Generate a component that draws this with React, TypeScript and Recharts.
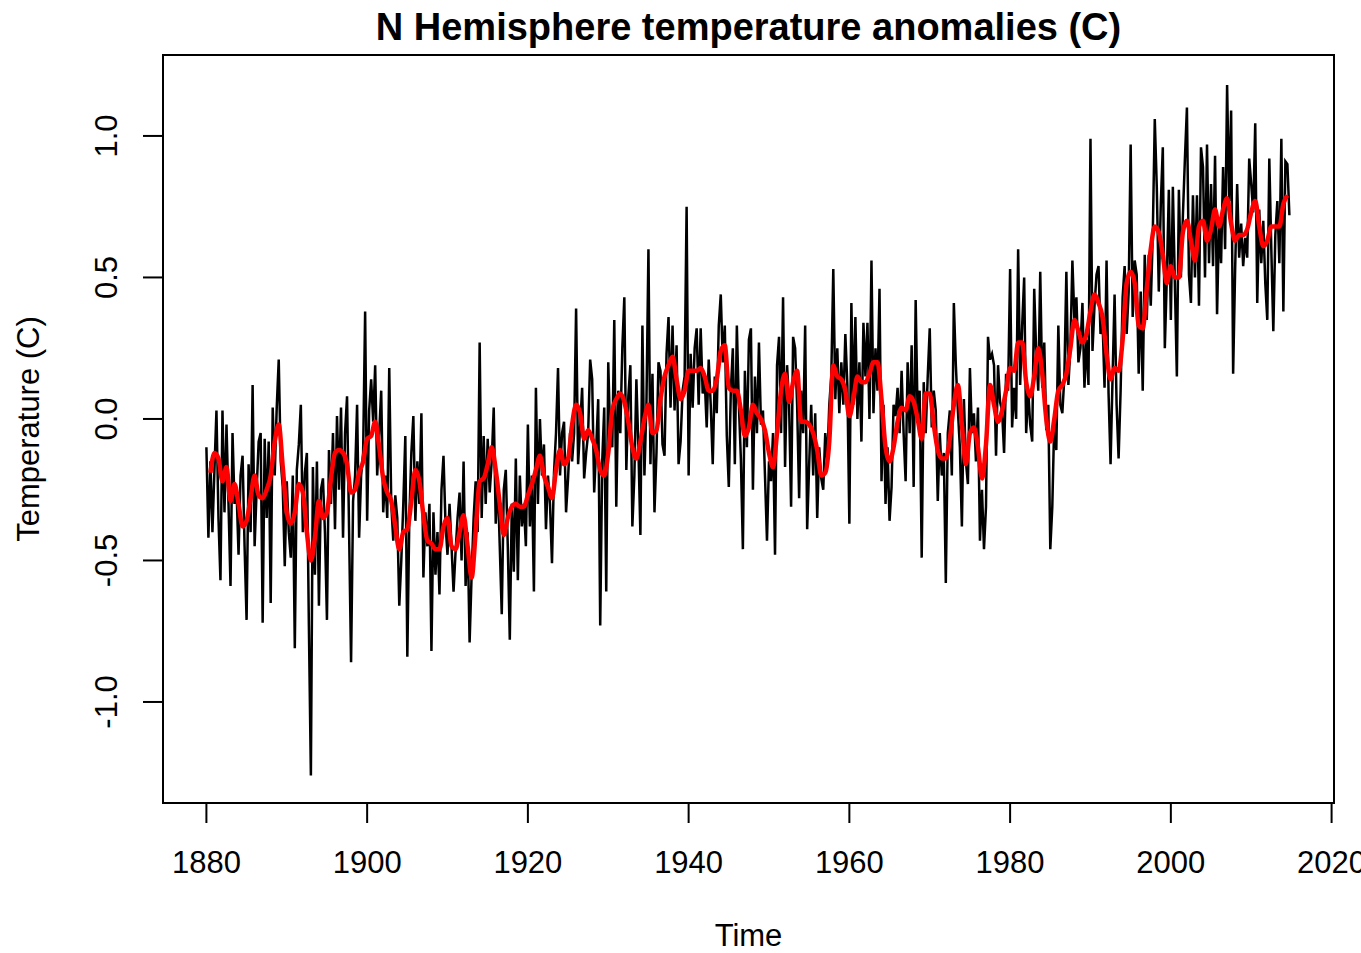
import React from 'react';
import { LineChart, Line, XAxis, YAxis, ReferenceArea } from 'recharts';

// Quarterly readings of the monthly NH anomaly trace (C), 4 values per year
const nh1880s = [
  -0.10, -0.42, -0.15, -0.40,
  -0.18, 0.03, -0.35, -0.57,
  0.03, -0.33, -0.02, -0.30,
  -0.59, -0.05, -0.30, -0.25,
  -0.48, -0.20, -0.13, -0.45,
  -0.71, -0.16, -0.40, 0.12,
  -0.45, -0.25, -0.08, -0.05,
  -0.72, -0.07, -0.35, -0.08,
  -0.65, 0.04, -0.20, 0.04,
  0.21, -0.15, -0.24, -0.52,
];
const nh1890s = [
  -0.22, -0.40, -0.49, -0.20,
  -0.81, -0.18, -0.09, 0.05,
  -0.40, -0.19, -0.12, -0.73,
  -1.26, -0.17, -0.55, -0.15,
  -0.66, -0.25, -0.21, -0.40,
  -0.71, -0.11, -0.30, -0.05,
  -0.39, 0.01, -0.25, 0.04,
  -0.42, -0.05, 0.08, -0.39,
  -0.86, -0.29, -0.20, 0.05,
  -0.42, -0.20, -0.12, 0.38,
];
const nh1900s = [
  -0.36, 0.03, 0.14, -0.01,
  0.19, -0.20, -0.05, 0.10,
  -0.33, -0.20, -0.35, 0.18,
  -0.30, -0.43, -0.27, -0.35,
  -0.66, -0.50, -0.30, -0.06,
  -0.84, -0.35, -0.12, 0.01,
  -0.36, -0.15, -0.30, 0.02,
  -0.56, -0.33, -0.45, -0.30,
  -0.82, -0.33, -0.55, -0.40,
  -0.62, -0.25, -0.13, -0.37,
];
const nh1910s = [
  -0.48, -0.30, -0.45, -0.61,
  -0.47, -0.35, -0.26, -0.50,
  -0.15, -0.59, -0.40, -0.79,
  -0.55, -0.35, -0.22, -0.40,
  0.27, -0.35, -0.06, -0.30,
  -0.07, -0.26, -0.15, 0.04,
  -0.37, -0.21, -0.45, -0.69,
  -0.25, -0.18, -0.45, -0.78,
  -0.30, -0.54, -0.14, -0.57,
  -0.20, -0.38, -0.30, -0.45,
];
const nh1920s = [
  -0.02, -0.38, -0.20, -0.61,
  0.11, -0.30, 0.00, -0.20,
  -0.09, -0.39, -0.20, -0.30,
  -0.51, -0.19, -0.05, 0.18,
  -0.20, -0.05, -0.01, -0.33,
  -0.21, -0.05, -0.15, -0.05,
  0.39, -0.16, -0.03, 0.11,
  -0.21, -0.12, -0.05, 0.21,
  0.14, -0.26, -0.10, 0.07,
  -0.73, -0.15, 0.04, -0.61,
];
const nh1930s = [
  0.20, -0.07, -0.10, 0.35,
  -0.31, 0.10, -0.05, 0.25,
  0.43, -0.18, 0.08, 0.19,
  -0.38, -0.20, 0.14, -0.10,
  -0.41, 0.33, -0.20, 0.05,
  0.60, -0.16, 0.16, -0.33,
  -0.12, 0.20, 0.17, -0.09,
  -0.13, 0.23, 0.36, 0.04,
  0.33, 0.03, 0.26, -0.16,
  -0.08, 0.10, 0.15, 0.75,
];
const nh1940s = [
  -0.20, 0.23, 0.04, 0.25,
  0.32, 0.05, 0.32, 0.09,
  0.14, -0.03, 0.21, 0.05,
  -0.16, 0.15, 0.02, 0.33,
  0.44, 0.20, 0.33, -0.06,
  -0.24, 0.10, 0.25, -0.16,
  0.33, 0.05, -0.14, -0.46,
  0.17, -0.10, 0.28, 0.32,
  -0.25, 0.15, -0.05, 0.27,
  -0.02, 0.03, -0.20, -0.43,
];
const nh1950s = [
  -0.15, -0.22, -0.05, -0.48,
  0.19, 0.29, -0.05, 0.43,
  -0.17, 0.19, 0.05, -0.31,
  0.29, 0.25, 0.05, -0.28,
  0.10, -0.05, 0.33, -0.39,
  -0.16, 0.05, -0.20, 0.02,
  -0.35, -0.10, -0.21, -0.25,
  -0.05, -0.15, 0.05, 0.15,
  0.53, 0.07, 0.25, 0.02,
  0.20, 0.05, 0.30, 0.12,
];
const nh1960s = [
  -0.37, 0.41, 0.05, 0.36,
  0.00, 0.20, -0.08, 0.34,
  0.15, 0.34, 0.00, 0.56,
  0.02, 0.25, 0.10, 0.46,
  -0.22, 0.05, -0.30, -0.10,
  -0.36, -0.24, 0.05, 0.01,
  0.11, -0.05, 0.17, -0.05,
  -0.22, 0.20, -0.05, 0.26,
  -0.24, 0.42, 0.00, 0.10,
  -0.49, 0.13, -0.05, 0.15,
];
const nh1970s = [
  0.32, -0.03, 0.10, 0.03,
  -0.29, -0.05, -0.20, -0.12,
  -0.58, -0.05, 0.03, -0.20,
  0.41, 0.19, 0.03, -0.10,
  -0.38, 0.07, -0.15, -0.23,
  0.18, -0.05, 0.02, -0.15,
  0.04, -0.43, -0.25, -0.46,
  -0.31, 0.29, 0.21, 0.23,
  0.19, -0.13, 0.19, 0.06,
  0.03, -0.12, 0.16, 0.10,
];
const nh1980s = [
  0.53, -0.03, 0.11, 0.00,
  0.60, 0.12, 0.33, 0.50,
  -0.05, 0.10, -0.02, -0.08,
  0.46, 0.23, 0.10, 0.52,
  0.11, 0.27, -0.04, 0.05,
  -0.46, -0.31, 0.00, -0.11,
  0.33, 0.05, 0.02, 0.15,
  0.52, 0.12, 0.25, 0.56,
  0.35, 0.43, 0.20, 0.25,
  0.41, 0.11, 0.28, 0.12,
];
const nh1990s = [
  0.99, 0.24, 0.40, 0.51,
  0.54, 0.30, 0.35, 0.11,
  0.56, 0.09, -0.16, 0.15,
  0.44, 0.05, -0.14, 0.10,
  0.43, 0.54, 0.30, 0.45,
  0.97, 0.36, 0.56, 0.51,
  0.16, 0.45, 0.10, 0.58,
  0.35, 0.58, 0.40, 0.65,
  1.06, 0.82, 0.45, 0.76,
  0.96, 0.25, 0.50, 0.81,
];
const nh2000s = [
  0.35, 0.82, 0.48, 0.15,
  0.81, 0.50, 0.72, 0.92,
  1.10, 0.51, 0.41, 0.79,
  0.50, 0.79, 0.40, 0.96,
  0.89, 0.50, 0.97, 0.55,
  0.83, 0.54, 0.93, 0.37,
  0.70, 0.55, 0.89, 0.60,
  1.18, 0.77, 1.09, 0.16,
  0.53, 0.83, 0.57, 0.69,
  0.54, 0.64, 0.57, 0.92,
];
const nh2010s = [
  0.83, 0.73, 1.045, 0.41,
  0.74, 0.55, 0.70, 0.48,
  0.35, 0.92, 0.60, 0.31,
  0.65, 0.77, 0.55, 0.99,
  0.38, 0.91, 0.90, 0.72,
];

// Smoothed curve (red), half-year readings; first array starts at 1880.5
const smooth1880s = [
  -0.19, -0.12, -0.14, -0.22, -0.17, -0.29, -0.23, -0.30, -0.38, -0.36,
  -0.28, -0.20, -0.27, -0.28, -0.25, -0.20, -0.08, -0.02, -0.17,
];
const smooth1890s = [
  -0.33, -0.37, -0.33, -0.23, -0.26, -0.40, -0.50, -0.42, -0.29, -0.35,
  -0.33, -0.21, -0.12, -0.11, -0.12, -0.16, -0.26, -0.25, -0.19, -0.15,
];
const smooth1900s = [
  -0.07, -0.06, -0.01, -0.10, -0.21, -0.26, -0.29, -0.38, -0.46, -0.40,
  -0.39, -0.29, -0.18, -0.22, -0.34, -0.43, -0.44, -0.46, -0.46, -0.38,
];
const smooth1910s = [
  -0.35, -0.45, -0.46, -0.40, -0.34, -0.45, -0.56, -0.40, -0.22, -0.21,
  -0.16, -0.10, -0.18, -0.30, -0.41, -0.35, -0.31, -0.30, -0.31, -0.31,
];
const smooth1920s = [
  -0.27, -0.23, -0.18, -0.13, -0.20, -0.24, -0.28, -0.18, -0.11, -0.16,
  -0.14, -0.02, 0.05, 0.02, -0.07, -0.04, -0.07, -0.11, -0.18, -0.20,
];
const smooth1930s = [
  -0.12, 0.03, 0.07, 0.09, 0.06, -0.01, -0.10, -0.14, -0.08, 0.00,
  0.05, -0.05, -0.04, 0.07, 0.15, 0.19, 0.22, 0.14, 0.07, 0.10,
];
const smooth1940s = [
  0.17, 0.17, 0.17, 0.18, 0.15, 0.10, 0.10, 0.14, 0.24, 0.26,
  0.11, 0.10, 0.10, 0.03, -0.06, -0.03, 0.05, 0.02, 0.00, -0.04,
];
const smooth1950s = [
  -0.12, -0.17, -0.05, 0.10, 0.16, 0.06, 0.13, 0.17, -0.01, -0.01,
  -0.02, -0.05, -0.11, -0.20, -0.19, -0.08, 0.19, 0.15, 0.14, 0.10,
];
const smooth1960s = [
  0.01, 0.07, 0.15, 0.13, 0.13, 0.16, 0.20, 0.20, 0.07, -0.10,
  -0.15, -0.10, -0.01, 0.04, 0.03, 0.08, 0.06, 0.00, -0.07, 0.09,
];
const smooth1970s = [
  0.09, -0.02, -0.11, -0.14, -0.14, -0.07, 0.05, 0.12, -0.02, -0.16,
  -0.05, -0.03, -0.10, -0.21, -0.09, 0.12, 0.05, -0.01, 0.03, 0.10,
];
const smooth1980s = [
  0.18, 0.17, 0.27, 0.27, 0.13, 0.08, 0.15, 0.25, 0.16, 0.00,
  -0.08, 0.00, 0.10, 0.12, 0.16, 0.25, 0.35, 0.31, 0.27, 0.30,
];
const smooth1990s = [
  0.38, 0.44, 0.41, 0.36, 0.23, 0.14, 0.18, 0.17, 0.28, 0.48,
  0.52, 0.48, 0.33, 0.32, 0.46, 0.60, 0.68, 0.66, 0.58, 0.48,
];
const smooth2000s = [
  0.54, 0.50, 0.50, 0.66, 0.70, 0.63, 0.56, 0.68, 0.70, 0.63,
  0.67, 0.74, 0.68, 0.74, 0.78, 0.69, 0.63, 0.65, 0.65, 0.67,
];
const smooth2010s = [0.73, 0.77, 0.68, 0.61, 0.63, 0.68, 0.68, 0.68, 0.76, 0.79];

const xTicks = [1880, 1900, 1920, 1940, 1960, 1980, 2000, 2020];
const yTicks = [-1.0, -0.5, 0.0, 0.5, 1.0];

const blackSets: [number, number[]][] = [
  [1880, nh1880s], [1890, nh1890s], [1900, nh1900s], [1910, nh1910s],
  [1920, nh1920s], [1930, nh1930s], [1940, nh1940s], [1950, nh1950s],
  [1960, nh1960s], [1970, nh1970s], [1980, nh1980s], [1990, nh1990s],
  [2000, nh2000s], [2010, nh2010s],
];
const redSets: [number, number[]][] = [
  [1880.5, smooth1880s], [1890, smooth1890s], [1900, smooth1900s], [1910, smooth1910s],
  [1920, smooth1920s], [1930, smooth1930s], [1940, smooth1940s], [1950, smooth1950s],
  [1960, smooth1960s], [1970, smooth1970s], [1980, smooth1980s], [1990, smooth1990s],
  [2000, smooth2000s], [2010, smooth2010s],
];

const rawData = blackSets.flatMap(([start, arr]) =>
  arr.map((v, i) => ({ t: start + i * 0.25, v }))
);
const smoothData = redSets.flatMap(([start, arr]) =>
  arr.map((v, i) => ({ t: start + i * 0.5, v }))
);

const FONT = '"Liberation Sans", Arial, Helvetica, sans-serif';
const X_DOMAIN: [number, number] = [1874.6, 2020.3];
const Y_DOMAIN: [number, number] = [-1.357, 1.286];

const XTick = (props: any) => (
  <text x={props.x} y={873} textAnchor="middle" fontSize={31} fontFamily={FONT} fill="#000">
    {props.payload.value}
  </text>
);

const YTick = (props: any) => {
  const y = props.y;
  return (
    <text
      x={117}
      y={y}
      transform={`rotate(-90 117 ${y})`}
      textAnchor="middle"
      fontSize={31}
      fontFamily={FONT}
      fill="#000"
    >
      {Number(props.payload.value).toFixed(1)}
    </text>
  );
};

export default function App() {
  return (
    <div
      style={{
        position: 'absolute',
        left: 0,
        top: 0,
        width: 1361,
        height: 953,
        overflow: 'hidden',
        background: '#fff',
      }}
    >
      <LineChart width={1361} height={953} margin={{ top: 55, right: 27, bottom: 0, left: 0 }}>
        <XAxis
          dataKey="t"
          type="number"
          scale="linear"
          domain={X_DOMAIN}
          allowDataOverflow
          ticks={xTicks}
          interval={0}
          height={150}
          tickSize={20}
          axisLine={false}
          tickLine={{ stroke: '#000', strokeWidth: 2 }}
          tick={<XTick />}
        />
        <YAxis
          type="number"
          scale="linear"
          domain={Y_DOMAIN}
          allowDataOverflow
          ticks={yTicks}
          interval={0}
          width={163}
          tickSize={20}
          axisLine={false}
          tickLine={{ stroke: '#000', strokeWidth: 2 }}
          tick={<YTick />}
        />
        <ReferenceArea
          x1={X_DOMAIN[0]}
          x2={X_DOMAIN[1]}
          y1={Y_DOMAIN[0]}
          y2={Y_DOMAIN[1]}
          fill="none"
          fillOpacity={0}
          stroke="#000"
          strokeWidth={2}
          ifOverflow="visible"
        />
        <Line
          data={rawData}
          dataKey="v"
          type="linear"
          stroke="#000"
          strokeWidth={2.5}
          dot={false}
          isAnimationActive={false}
        />
        <Line
          data={smoothData}
          dataKey="v"
          type="monotone"
          stroke="#ff0000"
          strokeWidth={4.5}
          dot={false}
          isAnimationActive={false}
        />
      </LineChart>
      <svg
        width={1361}
        height={953}
        style={{ position: 'absolute', left: 0, top: 0, pointerEvents: 'none' }}
      >
        <text x={748.5} y={40} textAnchor="middle" fontSize={38} fontWeight="bold" fontFamily={FONT} fill="#000">
          N Hemisphere temperature anomalies (C)
        </text>
        <text x={748.5} y={946} textAnchor="middle" fontSize={31} fontFamily={FONT} fill="#000">
          Time
        </text>
        <text
          x={39}
          y={429}
          transform="rotate(-90 39 429)"
          textAnchor="middle"
          fontSize={31}
          fontFamily={FONT}
          fill="#000"
        >
          Temperature (C)
        </text>
      </svg>
    </div>
  );
}
